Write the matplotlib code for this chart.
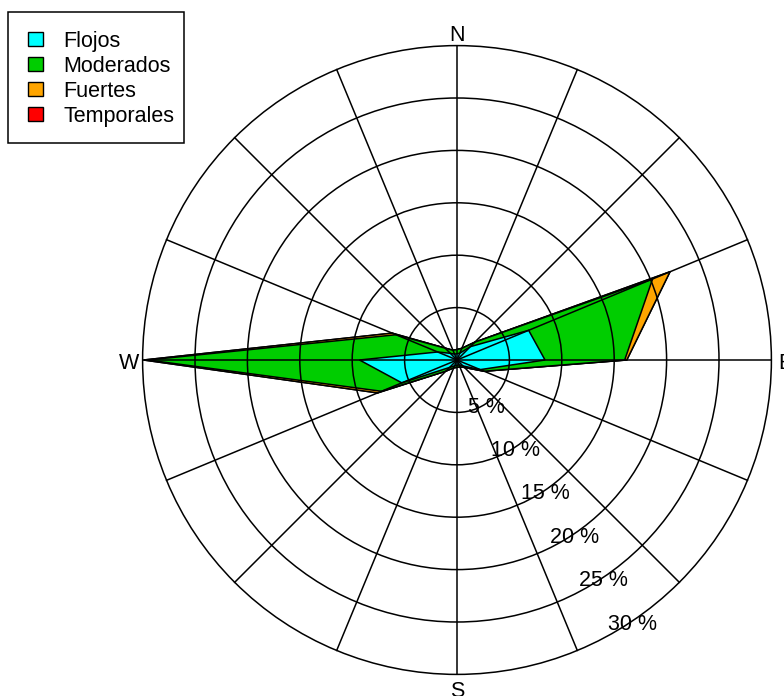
import numpy as np
import matplotlib.pyplot as plt
from matplotlib.patches import Polygon, Circle, Rectangle

plt.rcParams['font.family'] = ['Liberation Sans', 'DejaVu Sans']

# direcciones (16 rumbos) y frecuencias en %
rumbos = ['N', 'NNE', 'NE', 'ENE', 'E', 'ESE', 'SE', 'SSE',
          'S', 'SSW', 'SW', 'WSW', 'W', 'WNW', 'NW', 'NNW']
flojos = [0.6, 0.7, 1.8, 7.4, 8.4, 2.4, 0.8, 0.5,
          0.5, 0.6, 1.0, 5.7, 9.3, 2.0, 0.9, 0.6]
moderados = [0.4, 0.5, 0.6, 12.8, 7.6, 0.4, 0.2, 0.2,
             0.2, 0.2, 0.5, 2.1, 20.2, 4.3, 0.7, 0.4]
fuertes = [0.0, 0.0, 0.0, 1.8, 0.2, 0.0, 0.0, 0.0,
           0.0, 0.0, 0.0, 0.4, 0.4, 0.4, 0.0, 0.0]
temporales = [0.0] * 16

clases = ['Flojos', 'Moderados', 'Fuertes', 'Temporales']
colores = ['cyan', '#00CD00', 'orange', 'red']
circulos = [5, 10, 15, 20, 25, 30]

# escala: pixeles por 1 %
esc = 10.48
cx, cy = 457, 360
W, H = 784, 696
fs = 15.5

fig = plt.figure(figsize=(W / 100, H / 100), dpi=100)
ax = fig.add_axes([0, 0, 1, 1])
ax.set_xlim(-cx / esc, (W - cx) / esc)
ax.set_ylim(-(H - cy) / esc, cy / esc)
ax.set_aspect('equal')
ax.axis('off')

ang = np.deg2rad(90 - 22.5 * np.arange(16))

# poligonos acumulados, del mas externo al interno
acum = np.cumsum([flojos, moderados, fuertes, temporales], axis=0)
for k in range(3, -1, -1):
    r = acum[k]
    pts = np.column_stack([r * np.cos(ang), r * np.sin(ang)])
    ax.add_patch(Polygon(pts, closed=True, facecolor=colores[k],
                         edgecolor='black', lw=1.1, zorder=2))

# rejilla encima
for c in circulos:
    ax.add_patch(Circle((0, 0), c, fill=False, edgecolor='black', lw=1.1, zorder=3))
rmax = circulos[-1]
for a in ang:
    ax.plot([0, rmax * np.cos(a)], [0, rmax * np.sin(a)], color='black', lw=1.1, zorder=3)

dy = -0.35  # ajuste vertical del texto

# puntos cardinales
rl = 31.3
for nombre, a in zip(['N', 'E', 'S', 'W'], [90, 0, -90, 180]):
    t = np.deg2rad(a)
    ax.text(rl * np.cos(t), rl * np.sin(t) + dy, nombre, fontsize=fs,
            ha='center', va='center', zorder=4)

# etiquetas de porcentaje
t = np.deg2rad(-56)
for c in circulos:
    ax.text(c * np.cos(t), c * np.sin(t) + dy, f'{c} %', fontsize=fs,
            ha='center', va='center', zorder=4)

# leyenda
def px(x, y):
    return x / W, 1 - y / H

x0, y0 = px(8, 12)
x1, y1 = px(184, 143)
fig.patches.append(Rectangle((x0, y1), x1 - x0, y0 - y1, transform=fig.transFigure,
                             fill=False, edgecolor='black', lw=1.1))
for i, (nom, col) in enumerate(zip(clases, colores)):
    yc = 39 + 25 * i
    a0, b0 = px(28, yc + 7)
    a1, b1 = px(43, yc - 7)
    fig.patches.append(Rectangle((a0, b0), a1 - a0, b1 - b0, transform=fig.transFigure,
                                 facecolor=col, edgecolor='black', lw=1.0))
    tx, ty = px(63, yc + 2.5)
    fig.text(tx, ty, nom, fontsize=fs, ha='left', va='center')

fig.savefig('out.png', dpi=100)
